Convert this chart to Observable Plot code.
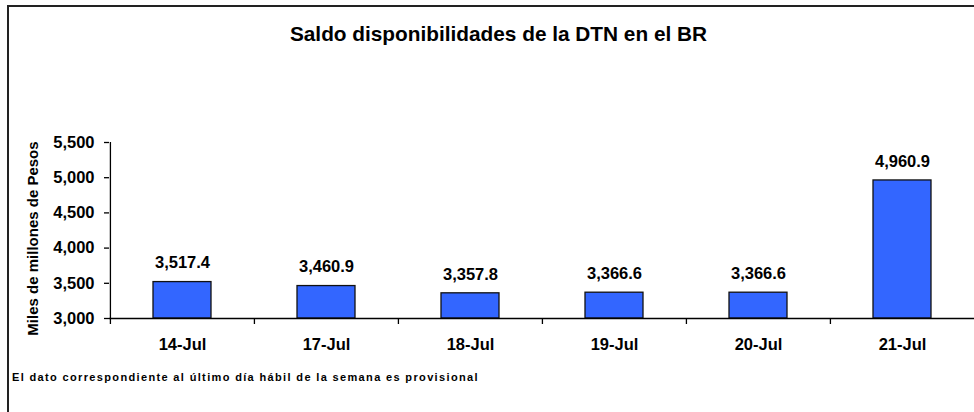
<!DOCTYPE html>
<html>
<head>
<meta charset="utf-8">
<script src="https://cdn.jsdelivr.net/npm/d3@7"></script>
<script src="https://cdn.jsdelivr.net/npm/@observablehq/plot@0.6"></script>
<style>
  html, body { margin: 0; padding: 0; background: #fff; }
  #wrap { position: relative; width: 974px; height: 412px; overflow: hidden; background: #fff;
          font-family: "Liberation Sans", Arial, sans-serif; color: #000; }
  #border { position: absolute; left: 7px; top: 5px; width: 2000px; height: 2000px;
            border-left: 2px solid #222; border-top: 2px solid #222; box-sizing: border-box; }
  #title { position: absolute; left: 498.5px; top: 24px; transform: translateX(-50%);
           font-size: 20.8px; font-weight: bold; line-height: 1; white-space: nowrap; }
  #note { position: absolute; left: 12px; top: 372.4px; font-size: 11px; font-weight: bold;
          letter-spacing: 1.35px; line-height: 1; white-space: nowrap; }
  #chart { position: absolute; left: 0; top: 0; }
</style>
</head>
<body>
<div id="wrap">
  <div id="border"></div>
  <div id="chart"></div>
  <div id="title"></div>
  <div id="note"></div>
</div>
<script>
const titleText = "Saldo disponibilidades de la DTN en el BR";
const noteText = "El dato correspondiente al último día hábil de la semana es provisional";
const yLabel = "Miles de millones de Pesos";
const categories = ["14-Jul", "17-Jul", "18-Jul", "19-Jul", "20-Jul", "21-Jul"];
const values = [3517.4, 3460.9, 3357.8, 3366.6, 3366.6, 4960.9];
const yTicks = [3000, 3500, 4000, 4500, 5000, 5500];

const data = categories.map((c, i) => ({date: c, value: values[i]}));

const W = 974, H = 412, mL = 109, mR = 0, mT = 142, mB = 94;
const step = (W - mL - mR) / categories.length;
const yMin = yTicks[0], yMax = yTicks[yTicks.length - 1];

document.getElementById("title").textContent = titleText;
document.getElementById("note").textContent = noteText;

const chart = Plot.plot({
  width: W, height: H,
  marginLeft: mL, marginRight: mR, marginTop: mT, marginBottom: mB,
  style: {fontFamily: "'Liberation Sans', Arial, sans-serif", fontSize: "16.5px", fontWeight: "bold", color: "#000", background: "transparent", overflow: "visible"},
  x: {domain: categories, paddingInner: 0.6, paddingOuter: 0.3, axis: null},
  y: {domain: [yMin, yMax], axis: null},
  marks: [
    Plot.barY(data, {x: "date", y1: yMin, y2: "value", fill: "#3366FF", stroke: "#111", strokeWidth: 1.3}),
    Plot.text(data, {x: "date", y: "value", text: d => d3.format(",.1f")(d.value), dy: -19, fontSize: 16.5, fontWeight: "bold", fill: "#000"}),
    Plot.ruleY([yMin], {stroke: "#000", strokeWidth: 1.3}),
    Plot.ruleX([categories[0]], {x: d => d, y1: yMax, y2: yMin, dx: -step / 2, insetBottom: -6, stroke: "#000", strokeWidth: 1.3}),
    Plot.ruleX(categories.slice(1), {x: d => d, y1: yMin, y2: yMin, dx: -step / 2, insetBottom: -6, stroke: "#000", strokeWidth: 1.3}),
    Plot.axisY({ticks: yTicks, tickSize: 5, tickPadding: 10, tickFormat: d3.format(","), label: null, fontSize: 16.5, fontWeight: "bold", stroke: "#000", strokeWidth: 1.3, fill: "#000"}),
    Plot.axisX({tickSize: 0, tickPadding: 20, label: null, fontSize: 16.5, fontWeight: "bold", fill: "#000"}),
    Plot.text([yLabel], {frameAnchor: "left", textAnchor: "middle", rotate: -90, dx: -76, dy: 8, text: d => d, fontSize: 15, fontWeight: "bold", fill: "#000"})
  ]
});
document.getElementById("chart").appendChild(chart);
</script>
</body>
</html>
